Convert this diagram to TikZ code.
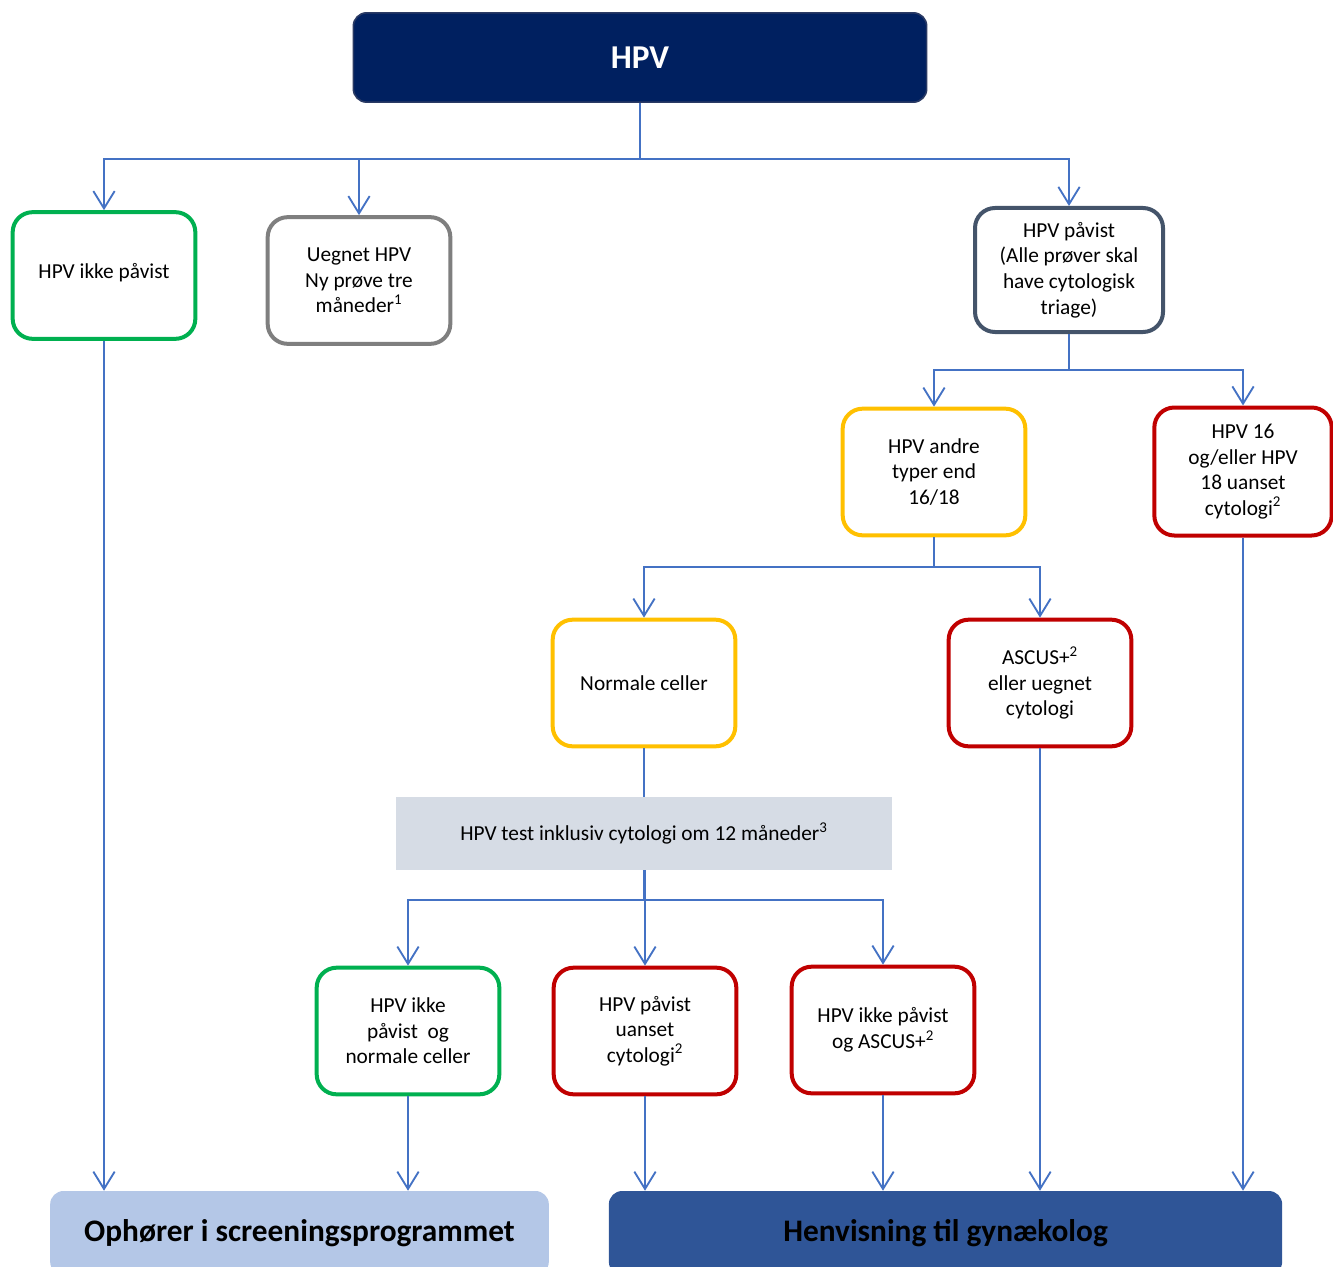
\documentclass[tikz,border=0pt]{standalone}
\usepackage{fontspec}
\setmainfont{Carlito}
\usetikzlibrary{arrows.meta}
\definecolor{navy}{HTML}{002060}
\definecolor{navyedge}{HTML}{2A3A64}
\definecolor{lineblue}{HTML}{4472C4}
\definecolor{okgreen}{HTML}{00B050}
\definecolor{midgray}{HTML}{7F7F7F}
\definecolor{slate}{HTML}{44546A}
\definecolor{amber}{HTML}{FFC000}
\definecolor{darkred}{HTML}{C00000}
\definecolor{palegray}{HTML}{D6DCE5}
\definecolor{paleblue}{HTML}{B4C7E7}
\definecolor{deepblue}{HTML}{2F5597}
\begin{document}
\begin{tikzpicture}[x=0.75pt,y=-0.75pt,
  flow/.style={draw=lineblue, line width=1.4pt},
  arr/.style={flow, -{Straight Barb[length=13pt,width=16pt,line width=1.4pt]}},
  box/.style={rounded corners=15pt, line width=3pt, fill=white, align=center,
    font=\fontsize{16}{19.2}\selectfont, inner sep=0pt,
    minimum width=137pt, minimum height=95pt},
  endbox/.style={rounded corners=10pt, inner sep=0pt, minimum height=63pt,
    font=\bfseries\fontsize{23.5}{27}\selectfont, text=black}
]
\useasboundingbox (0,0) rectangle (1333,1266);
\clip (0,0) rectangle (1333,1266);

% top
\node[rounded corners=10pt, fill=navy, draw=navyedge, line width=1.2pt,
  minimum width=430pt, minimum height=67pt, text=white,
  font=\bfseries\fontsize{25}{29}\selectfont] (top) at (640,57.5) {HPV};

% level 1
\node[box, draw=okgreen] (b1) at (104,275.5) {\raisebox{7.5pt}{HPV ikke påvist}};
\node[box, draw=midgray] (b2) at (359,280.5) {Uegnet HPV\\Ny prøve tre\\måneder\textsuperscript{1}};
\node[box, draw=slate, minimum width=141pt, minimum height=93pt] (b3) at (1069,270)
  {HPV påvist\\(Alle prøver skal\\have cytologisk\\triage)};

% level 2
\node[box, draw=amber] (b4) at (934,472) {HPV andre\\typer end\\16/18};
\node[box, draw=darkred, minimum width=133pt, minimum height=96pt] (b5) at (1243,471.5)
  {HPV 16\\og/eller HPV\\18 uanset\\cytologi\textsuperscript{2}};

% level 3
\node[box, draw=amber] (b6) at (644,683) {Normale celler};
\node[box, draw=darkred] (b7) at (1040,683) {ASCUS+\textsuperscript{2}\\eller uegnet\\cytologi};

% follow-up
\node[fill=palegray, minimum width=372pt, minimum height=55pt, inner sep=0pt,
  font=\fontsize{16}{19}\selectfont] (test) at (644,833.5)
  {HPV test inklusiv cytologi om 12 måneder\textsuperscript{3}};

% level 4
\node[box, draw=okgreen] (b8) at (408,1031) {HPV ikke\\påvist\ \ og\\normale celler};
\node[box, draw=darkred] (b9) at (645,1031) {HPV påvist\\uanset\\cytologi\textsuperscript{2}};
\node[box, draw=darkred] (b10) at (883,1030) {HPV ikke påvist\\og ASCUS+\textsuperscript{2}};

% outcomes
\node[endbox, fill=paleblue, minimum width=374pt] (stop) at (299.5,1233)
  {Ophører i screeningsprogrammet};
\node[endbox, fill=deepblue, minimum width=505pt] (gyn) at (945.5,1233)
  {Henvisning til gynækolog};

% connectors
\coordinate (j1) at (640,159);
\draw[flow] (top.south) -- (j1);
\draw[arr] (j1) -| (b1.north);
\draw[arr] (j1) -| (b2.north);
\draw[arr] (j1) -| (b3.north);

\coordinate (j2) at (1069,370);
\draw[flow] (b3.south) -- (j2);
\draw[arr] (j2) -| (b4.north);
\draw[arr] (j2) -| (b5.north);

\coordinate (j3) at (934,567);
\draw[flow] (b4.south) -- (j3);
\draw[arr] (j3) -| (b6.north);
\draw[arr] (j3) -| (b7.north);

\draw[flow] (b6.south) -- (b6.south |- test.north);

\coordinate (j4) at (644,900);
\draw[flow] (test.south -| j4) -- (j4);
\draw[arr] (j4) -| (b8.north);
\draw[arr] (test.south -| b9.north) -- (b9.north);
\draw[arr] (j4) -| (b10.north);

\draw[arr] (b1.south) -- (b1.south |- stop.north);
\draw[arr] (b8.south) -- (b8.south |- stop.north);
\draw[arr] (b9.south) -- (b9.south |- gyn.north);
\draw[arr] (b10.south) -- (b10.south |- gyn.north);
\draw[arr] (b7.south) -- (b7.south |- gyn.north);
\draw[arr] (b5.south) -- (b5.south |- gyn.north);
\end{tikzpicture}
\end{document}
